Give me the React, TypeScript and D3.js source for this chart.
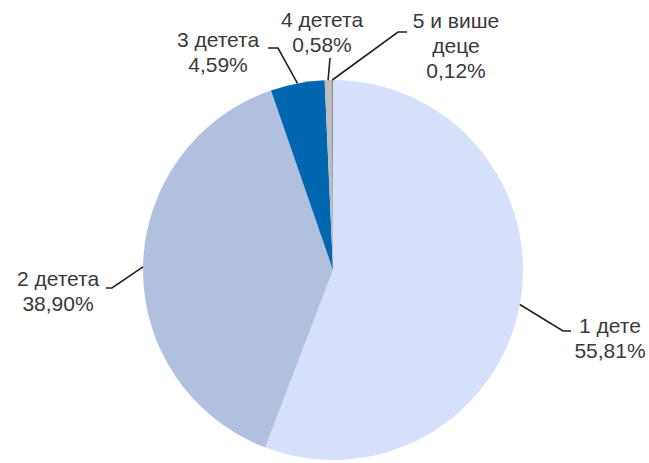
import React from "react";
import * as d3 from "d3";

const categories = ["1 дете", "2 детета", "3 детета", "4 детета", "5 и више деце"];
const values = [55.81, 38.9, 4.59, 0.58, 0.12];
const valueLabels = ["55,81%", "38,90%", "4,59%", "0,58%", "0,12%"];
const labelLines = [["1 дете", "55,81%"], ["2 детета", "38,90%"], ["3 детета", "4,59%"], ["4 детета", "0,58%"], ["5 и више", "деце", "0,12%"]];
const colors = ["#D7E0FA", "#B0C0DE", "#0066B0", "#BDBDBD", "#8C8C8C"];

// layout (positions of label text & leader elbows)
const W = 649, H = 463;
const cx = 333, cy = 270, R = 190;
const labelLayout = [
  { elbow: [563, 331], end: [571, 331], tx: 610, ty: 333 },
  { elbow: [112, 288], end: [106, 288], tx: 58, ty: 286 },
  { elbow: [278, 48], end: [268, 48], tx: 218, ty: 47 },
  { elbow: [330, 58], end: [330, 58], tx: 322, ty: 27 },
  { elbow: [398, 32], end: [407, 32], tx: 456, ty: 28 },
];
const lineHeight = 25;

export default function App() {
  const pie = d3.pie<number>().sort(null).value((d) => d).startAngle(0).endAngle(2 * Math.PI);
  const arcs = pie(values);
  const arc = d3.arc<d3.PieArcDatum<number>>().innerRadius(0).outerRadius(R);
  return (
    <svg width={W} height={H} style={{ position: "absolute", left: 0, top: 0, background: "#fff" }}
      fontFamily="'Liberation Sans', Arial, sans-serif">
      <g transform={`translate(${cx},${cy})`}>
        {arcs.map((a, i) => (
          <path key={categories[i]} d={arc(a) || ""} fill={colors[i]} />
        ))}
      </g>
      {arcs.map((a, i) => {
        const mid = (a.startAngle + a.endAngle) / 2;
        const sx = cx + R * Math.sin(mid);
        const sy = cy - R * Math.cos(mid);
        const L = labelLayout[i];
        return (
          <g key={"l" + i}>
            <polyline points={`${sx},${sy} ${L.elbow[0]},${L.elbow[1]} ${L.end[0]},${L.end[1]}`}
              fill="none" stroke="#222" strokeWidth={1.6} />
            <text x={L.tx} y={L.ty} textAnchor="middle" fontSize={21} fill="#3a3a3a">
              {labelLines[i].map((t, j) => (
                <tspan key={j} x={L.tx} dy={j === 0 ? 0 : lineHeight}>{t}</tspan>
              ))}
            </text>
          </g>
        );
      })}
    </svg>
  );
}
